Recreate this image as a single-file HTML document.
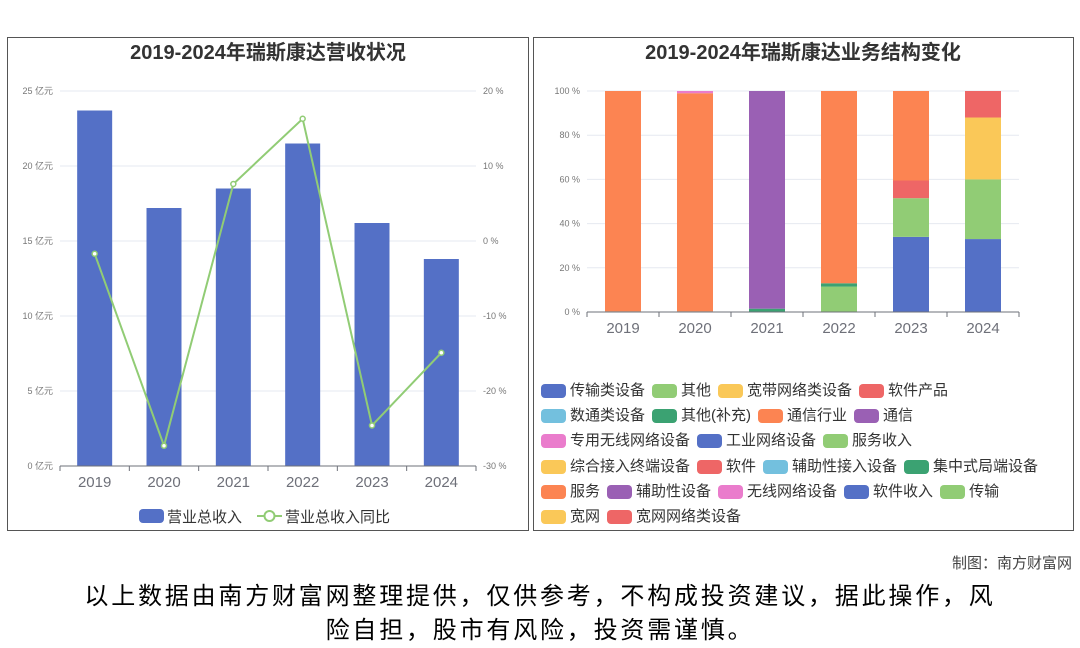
<!DOCTYPE html>
<html><head><meta charset="utf-8">
<style>
body{margin:0;width:1080px;height:646px;background:#fff;overflow:hidden;font-family:"Liberation Sans","Noto Sans CJK SC",sans-serif;position:relative}
.panel{position:absolute;border:1px solid #555;box-sizing:border-box}
svg text{font-family:"Liberation Sans","Noto Sans CJK SC",sans-serif}
.leg{position:absolute;left:541px;font-size:15px;color:#333}
.row{position:absolute;left:0;white-space:nowrap;height:20px;line-height:20px}
.it{display:inline-flex;align-items:center;margin-right:7px}
.sw{display:inline-block;width:25px;height:14px;border-radius:4px;margin-right:4px}
</style></head><body>
<div class="panel" style="left:7px;top:37px;width:522px;height:494px"></div>
<div class="panel" style="left:533px;top:37px;width:541px;height:494px"></div>
<svg id="chart" width="1080" height="646" style="position:absolute;left:0;top:0"></svg>
<div class="leg" id="leg"></div>
<div style="position:absolute;right:8px;top:552px;font-size:15px;color:#444">制图：南方财富网</div>
<div style="position:absolute;left:0;width:1080px;top:580px;text-align:center;font-size:24px;line-height:34px;letter-spacing:2.8px;color:#000">以上数据由南方财富网整理提供，仅供参考，不构成投资建议，据此操作，风<br>险自担，股市有风险，投资需谨慎。</div>
<script>
const years=['2019','2020','2021','2022','2023','2024'];
const revenue=[23.7,17.2,18.5,21.5,16.2,13.8];
const growth=[-1.7,-27.3,7.6,16.3,-24.6,-14.9];
const revTicks=[0,5,10,15,20,25];
const pctTicks=[-30,-20,-10,0,10,20];
const shareTicks=[0,20,40,60,80,100];
const seriesNames=['传输类设备','其他','宽带网络类设备','软件产品','数通类设备','其他(补充)','通信行业','通信','专用无线网络设备','工业网络设备','服务收入','综合接入终端设备','软件','辅助性接入设备','集中式局端设备','服务','辅助性设备','无线网络设备','软件收入','传输','宽网','宽网网络类设备'];
const seriesColors=['#5470c6','#91cc75','#fac858','#ee6666','#73c0de','#3ba272','#fc8452','#9a60b4','#ea7ccc','#5470c6','#91cc75','#fac858','#ee6666','#73c0de','#3ba272','#fc8452','#9a60b4','#ea7ccc','#5470c6','#91cc75','#fac858','#ee6666'];
const s_gongye=[0,0,0,0,34,0];
const s_ruanjianshouru=[0,0,0,0,0,33];
const s_fuwushouru=[0,0,0,11.5,17.5,0];
const s_chuanshu=[0,0,0,0,0,27];
const s_jizhong=[0.3,0.3,1.5,0,0,0];
const s_qitabc=[0,0,0,1.5,0,0];
const s_ruanjian=[0,0,0,0,8,0];
const s_kuanwang=[0,0,0,0,0,28];
const s_tongxinhy=[99.7,98.7,0,87,40.5,0];
const s_tongxin=[0,0,98.5,0,0,0];
const s_wuxian=[0,1,0,0,0,0];
const s_kwwl=[0,0,0,0,0,12];
const stackOrder=[[s_gongye,9],[s_ruanjianshouru,18],[s_fuwushouru,10],[s_chuanshu,19],[s_jizhong,14],[s_qitabc,5],[s_ruanjian,12],[s_kuanwang,20],[s_tongxinhy,6],[s_tongxin,7],[s_wuxian,17],[s_kwwl,21]];

const svg=document.getElementById('chart');const NS='http://www.w3.org/2000/svg';
function mk(t,a,txt){const e=document.createElementNS(NS,t);for(const k in a)e.setAttribute(k,a[k]);if(txt!==undefined)e.textContent=txt;svg.appendChild(e);return e;}
let t=mk('text',{x:268,y:59,'text-anchor':'middle','font-size':20,'font-weight':'bold',fill:'#333'},'2019-2024年瑞斯康达营收状况');

t=mk('text',{x:803,y:59,'text-anchor':'middle','font-size':20,'font-weight':'bold',fill:'#333'},'2019-2024年瑞斯康达业务结构变化');


const L={x0:60,x1:476,y0:466,y1:91};
const bw=(L.x1-L.x0)/years.length;
const yRev=v=>L.y0-(v/25)*(L.y0-L.y1);
const yPct=v=>L.y0-((v+30)/50)*(L.y0-L.y1);
const xL=i=>L.x0+bw*(i+0.5);
revTicks.forEach(v=>{const y=yRev(v);
 if(v>0){let g=mk('line',{x1:L.x0,x2:L.x1,y1:y,y2:y,stroke:'#e6e9f0'});}
 let e=mk('text',{x:53,y:y+3,'text-anchor':'end','font-size':9,fill:'#777'},v+' 亿元');});
pctTicks.forEach(v=>{let e=mk('text',{x:483,y:yPct(v)+3,'font-size':9,fill:'#777'},v+' %');});
revenue.forEach((v,i)=>{let r=mk('rect',{x:xL(i)-17.5,y:yRev(v),width:35,height:L.y0-yRev(v),fill:'#5470c6'});});
let ax=mk('line',{x1:L.x0,x2:L.x1,y1:L.y0,y2:L.y0,stroke:'#6e7079'});
years.forEach((y,i)=>{mk('line',{x1:L.x0+bw*i,x2:L.x0+bw*i,y1:L.y0,y2:L.y0+5,stroke:'#6e7079'});
 let e=mk('text',{x:xL(i),y:487,'text-anchor':'middle','font-size':15,fill:'#6e7079'},y);});
mk('line',{x1:L.x1,x2:L.x1,y1:L.y0,y2:L.y0+5,stroke:'#6e7079'});
let pl=mk('polyline',{points:growth.map((v,i)=>xL(i)+','+yPct(v)).join(' '),fill:'none',stroke:'#91cc75','stroke-width':2});

growth.forEach((v,i)=>{let c=mk('circle',{cx:xL(i),cy:yPct(v),r:2.5,fill:'#fff',stroke:'#91cc75','stroke-width':1.5});});
let lr=mk('rect',{x:139,y:509,width:25,height:14,rx:4,fill:'#5470c6'});
t=mk('text',{x:167,y:522,'font-size':15,fill:'#333'},'营业总收入');
mk('line',{x1:257,x2:282,y1:516,y2:516,stroke:'#91cc75','stroke-width':2});
mk('circle',{cx:269.5,cy:516,r:5,fill:'#fff',stroke:'#91cc75','stroke-width':2});
t=mk('text',{x:285,y:522,'font-size':15,fill:'#333'},'营业总收入同比');

const R={x0:587,x1:1019,y0:312,y1:91};
const rw=(R.x1-R.x0)/years.length;
const yS=v=>R.y0-(v/100)*(R.y0-R.y1);
const xR=i=>R.x0+rw*(i+0.5);
shareTicks.forEach(v=>{const y=yS(v);
 if(v>0){let g=mk('line',{x1:R.x0,x2:R.x1,y1:y,y2:y,stroke:'#e6e9f0'});}
 let e=mk('text',{x:580,y:y+3,'text-anchor':'end','font-size':9,fill:'#777'},v+' %');});
years.forEach((yr,i)=>{let acc=0;stackOrder.forEach(([arr,ci])=>{const v=arr[i];if(v<=0)return;
 let r=mk('rect',{x:xR(i)-18,y:yS(acc+v),width:36,height:yS(acc)-yS(acc+v),fill:seriesColors[ci]});
 acc+=v;});});
ax=mk('line',{x1:R.x0,x2:R.x1,y1:R.y0,y2:R.y0,stroke:'#6e7079'});
years.forEach((y,i)=>{mk('line',{x1:R.x0+rw*i,x2:R.x0+rw*i,y1:R.y0,y2:R.y0+5,stroke:'#6e7079'});
 let e=mk('text',{x:xR(i),y:333,'text-anchor':'middle','font-size':15,fill:'#6e7079'},y);});
mk('line',{x1:R.x1,x2:R.x1,y1:R.y0,y2:R.y0+5,stroke:'#6e7079'});

const rows=[[0,1,2,3],[4,5,6,7],[8,9,10],[11,12,13,14],[15,16,17,18,19],[20,21]];
const leg=document.getElementById('leg');
rows.forEach((r,ri)=>{const d=document.createElement('div');d.className='row';d.style.top=(381+ri*25.2)+'px';
 
 
 r.forEach(ci=>{const s=document.createElement('span');s.className='it';
  
  
  s.innerHTML='<span class="sw" style="background:'+seriesColors[ci]+'"></span>'+seriesNames[ci];d.appendChild(s);});
 leg.appendChild(d);});
</script>
</body></html>
